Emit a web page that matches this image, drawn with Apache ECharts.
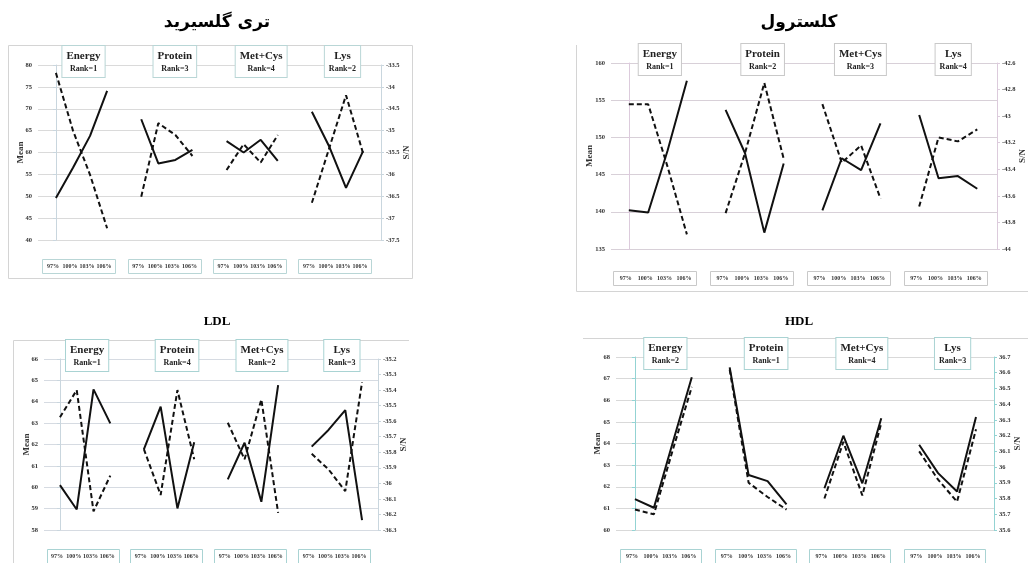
<!DOCTYPE html>
<html>
<head>
<meta charset="utf-8">
<script src="https://cdn.jsdelivr.net/npm/echarts@6/dist/echarts.min.js"></script>
<style>
  html, body { margin: 0; padding: 0; background: #ffffff; }
  #chart { width: 1028px; height: 563px; }
</style>
</head>
<body>
<div id="chart"></div>
<script>
// Factor levels and factors shared by all four panels
const levels = ['97%', '100%', '103%', '106%'];
const factors = ['Energy', 'Protein', 'Met+Cys', 'Lys'];

// Triglyceride
const tgTitle = 'تری گلسیرید';
const tgRank = [1, 3, 4, 2];
const tgMean = [[49.6, 56.5, 63.8, 74.1], [67.6, 57.5, 58.3, 60.6], [62.6, 60.0, 62.9, 58.1], [69.3, 61.5, 51.9, 60.3]];
const tgSN = [[-33.68, -35.0, -36.01, -37.23], [-36.51, -34.83, -35.1, -35.58], [-35.9, -35.31, -35.73, -35.1], [-36.65, -35.42, -34.19, -35.52]];
const tgMeanTicks = [40, 80, 5];
const tgSNTicks = [-37.5, -33.5, 0.5];

// Cholesterol
const cholTitle = 'کلسترول';
const cholRank = [1, 2, 3, 4];
const cholMean = [[140.2, 139.9, 148.2, 157.6], [153.7, 147.9, 137.2, 146.5], [140.2, 147.2, 145.6, 151.9], [153.0, 144.5, 144.8, 143.1]];
const cholSN = [[-42.91, -42.91, -43.38, -43.89], [-43.73, -43.28, -42.75, -43.32], [-42.91, -43.35, -43.22, -43.62], [-43.68, -43.16, -43.19, -43.10]];
const cholMeanTicks = [135, 160, 5];
const cholSNTicks = [-44, -42.6, 0.2];

// LDL
const ldlTitle = 'LDL';
const ldlRank = [1, 4, 2, 3];
const ldlMean = [[60.1, 58.96, 64.58, 62.99], [61.77, 63.77, 59.01, 62.1], [60.37, 62.08, 59.32, 64.78], [61.9, 62.68, 63.61, 58.46]];
const ldlSN = [[-35.575, -35.40, -36.18, -35.95], [-35.78, -36.075, -35.40, -35.845], [-35.61, -35.845, -35.46, -36.19], [-35.81, -35.91, -36.05, -35.35]];
const ldlMeanTicks = [58, 66, 1];
const ldlSNTicks = [-36.3, -35.2, 0.1];

// HDL
const hdlTitle = 'HDL';
const hdlRank = [2, 1, 4, 3];
const hdlMean = [[61.43, 61.03, 64.06, 67.06], [67.52, 62.54, 62.26, 61.18], [61.93, 64.36, 62.16, 65.17], [63.94, 62.63, 61.78, 65.22]];
const hdlSN = [[35.73, 35.70, 36.11, 36.51], [36.62, 35.90, 35.81, 35.73], [35.80, 36.16, 35.82, 36.28], [36.10, 35.92, 35.78, 36.24]];
const hdlMeanTicks = [60, 68, 1];
const hdlSNTicks = [35.6, 36.7, 0.1];

// Panel layout (pixels) and styling
const SERIF = "'Liberation Serif', 'DejaVu Serif', serif";
const panels = [
  { title: tgTitle, rtl: true, rank: tgRank, mean: tgMean, sn: tgSN, mt: tgMeanTicks, st: tgSNTicks,
    grid: { left: 38, top: 65, width: 343, height: 175 }, xr: [-1.05, 19.05], titleXY: [217, 23],
    axisColor: '#c9d6de', gridColor: '#dadada', boxTop: 259, boxColor: '#b9d6d6',
    meanGap: 13, snGap: 21 },
  { title: cholTitle, rtl: true, rank: cholRank, mean: cholMean, sn: cholSN, mt: cholMeanTicks, st: cholSNTicks,
    grid: { left: 611, top: 63, width: 390, height: 186 }, xr: [-0.92, 19.02], titleXY: [799, 23],
    axisColor: '#dccbdc', gridColor: '#d8d0d8', boxTop: 271, boxColor: '#c9c9c9',
    meanGap: 17, snGap: 21 },
  { title: ldlTitle, rtl: false, rank: ldlRank, mean: ldlMean, sn: ldlSN, mt: ldlMeanTicks, st: ldlSNTicks,
    grid: { left: 44, top: 359, width: 334, height: 171 }, xr: [-0.95, 18.95], titleXY: [217, 322],
    axisColor: '#c9d6de', gridColor: '#d6dbe2', boxTop: 549, boxColor: '#a9d3d3',
    meanGap: 13, snGap: 21 },
  { title: hdlTitle, rtl: false, rank: hdlRank, mean: hdlMean, sn: hdlSN, mt: hdlMeanTicks, st: hdlSNTicks,
    grid: { left: 616, top: 357, width: 378, height: 173 }, xr: [-1.0, 18.95], titleXY: [799, 322],
    axisColor: '#93d3d3', gridColor: '#d9d9d9', boxTop: 549, boxColor: '#a9d3d3',
    meanGap: 14, snGap: 19 }
];
// Header box offsets per factor (pixels to the right of the group centre)
const headerShift = [2, 8, 9, 5];

const labelStyle = { fontFamily: SERIF, fontWeight: 'bold', fontSize: 6.5, color: '#333' };

const grids = [], xAxes = [], yAxes = [], series = [];
panels.forEach((p, pi) => {
  grids.push(Object.assign({ containLabel: false }, p.grid));
  xAxes.push({ type: 'value', gridIndex: pi, min: p.xr[0], max: p.xr[1], show: false });
  yAxes.push({
    type: 'value', gridIndex: pi, position: 'left',
    min: p.mt[0], max: p.mt[1], interval: p.mt[2],
    name: 'Mean', nameLocation: 'middle', nameGap: p.meanGap, nameRotate: 90,
    nameMoveOverlap: false,
    nameTextStyle: { fontFamily: SERIF, fontWeight: 'bold', fontSize: 9, color: '#333' },
    axisLine: { show: true, lineStyle: { color: p.axisColor, width: 1 } },
    axisTick: { show: true, length: 3, lineStyle: { color: p.axisColor } },
    axisLabel: Object.assign({ margin: 6 }, labelStyle),
    splitLine: { show: true, lineStyle: { color: p.gridColor, width: 1 } }
  });
  yAxes.push({
    type: 'value', gridIndex: pi, position: 'right',
    min: p.st[0], max: p.st[1], interval: p.st[2],
    name: 'S/N', nameLocation: 'middle', nameGap: p.snGap, nameRotate: 90,
    nameMoveOverlap: false,
    nameTextStyle: { fontFamily: SERIF, fontWeight: 'bold', fontSize: 9, color: '#333' },
    axisLine: { show: true, lineStyle: { color: p.axisColor, width: 1 } },
    axisTick: { show: true, length: 3, lineStyle: { color: p.axisColor } },
    axisLabel: Object.assign({ margin: 5,
      formatter: v => String(Math.round(v * 10) / 10) }, labelStyle),
    splitLine: { show: false }
  });
  factors.forEach((f, fi) => {
    const xs = levels.map((_, k) => fi * 5 + k);
    series.push({
      type: 'line', name: p.title + ' ' + f + ' Mean', xAxisIndex: pi, yAxisIndex: pi * 2,
      data: xs.map((x, k) => [x, p.mean[fi][k]]),
      showSymbol: false, symbol: 'none', silent: true,
      lineStyle: { color: '#111', width: 2, type: 'solid' }
    });
    series.push({
      type: 'line', name: p.title + ' ' + f + ' S/N', xAxisIndex: pi, yAxisIndex: pi * 2 + 1,
      data: xs.map((x, k) => [x, p.sn[fi][k]]),
      showSymbol: false, symbol: 'none', silent: true,
      lineStyle: { color: '#111', width: 2, type: [5, 3] }
    });
  });
});

const chart = echarts.init(document.getElementById('chart'), null, { renderer: 'canvas' });
chart.setOption({
  animation: false,
  backgroundColor: '#ffffff',
  grid: grids, xAxis: xAxes, yAxis: yAxes, series: series
});

// Frames, titles, factor headers and level boxes placed from the axis scales
const frameColor = '#d4d4d4';
const graphics = [
  { type: 'rect', shape: { x: 8.5, y: 45.5, width: 404, height: 233 }, style: { fill: 'none', stroke: frameColor, lineWidth: 1 }, z: 0 },
  { type: 'polyline', shape: { points: [[576.5, 45], [576.5, 291.5], [1028, 291.5]] }, style: { fill: 'none', stroke: frameColor, lineWidth: 1 }, z: 0 },
  { type: 'polyline', shape: { points: [[13.5, 563], [13.5, 340.5], [409, 340.5]] }, style: { fill: 'none', stroke: frameColor, lineWidth: 1 }, z: 0 },
  { type: 'line', shape: { x1: 583, y1: 338.5, x2: 1028, y2: 338.5 }, style: { stroke: frameColor, lineWidth: 1 }, z: 0 }
];

panels.forEach((p, pi) => {
  graphics.push({
    type: 'text', x: p.titleXY[0], y: p.titleXY[1], z: 10,
    style: {
      text: p.title, align: 'center', verticalAlign: 'middle',
      font: p.rtl ? "bold 17px 'DejaVu Sans', sans-serif" : "bold 13px " + SERIF,
      fill: '#000'
    }
  });
  const meanMax = p.mt[1], meanMin = p.mt[0];
  factors.forEach((f, fi) => {
    const first = chart.convertToPixel({ gridIndex: pi }, [fi * 5, meanMax]);
    const last = chart.convertToPixel({ gridIndex: pi }, [fi * 5 + 3, meanMax]);
    const step = (last[0] - first[0]) / 3;
    const cx = (first[0] + last[0]) / 2 + headerShift[fi];
    // factor header
    graphics.push({
      type: 'text', x: cx, y: first[1] - 19, z: 20,
      style: {
        text: '{a|' + f + '}\n{b|Rank=' + p.rank[fi] + '}',
        align: 'center', verticalAlign: 'top',
        backgroundColor: '#ffffff', borderColor: p.boxColor, borderWidth: 1,
        padding: [3, 4, 3, 4],
        rich: {
          a: { fontFamily: SERIF, fontWeight: 'bold', fontSize: 11, lineHeight: 14, fill: '#222', align: 'center' },
          b: { fontFamily: SERIF, fontWeight: 'bold', fontSize: 8, lineHeight: 11, fill: '#222', align: 'center' }
        }
      }
    });
    // level box under each factor
    const bx = first[0] - step * 0.8;
    const bw = (last[0] - first[0]) + step * 1.3;
    graphics.push({
      type: 'rect', z: 20,
      shape: { x: Math.round(bx) + 0.5, y: p.boxTop + 0.5, width: Math.round(bw), height: 14 },
      style: { fill: '#ffffff', stroke: p.boxColor, lineWidth: 1 }
    });
    levels.forEach((lv, k) => {
      const pt = chart.convertToPixel({ gridIndex: pi }, [fi * 5 + k, meanMin]);
      graphics.push({
        type: 'text', x: pt[0] - 3, y: p.boxTop + 7.5, z: 21,
        style: { text: lv, align: 'center', verticalAlign: 'middle',
          font: "bold 6px " + SERIF, fill: '#333' }
      });
    });
  });
});

chart.setOption({ graphic: graphics });
</script>
</body>
</html>
